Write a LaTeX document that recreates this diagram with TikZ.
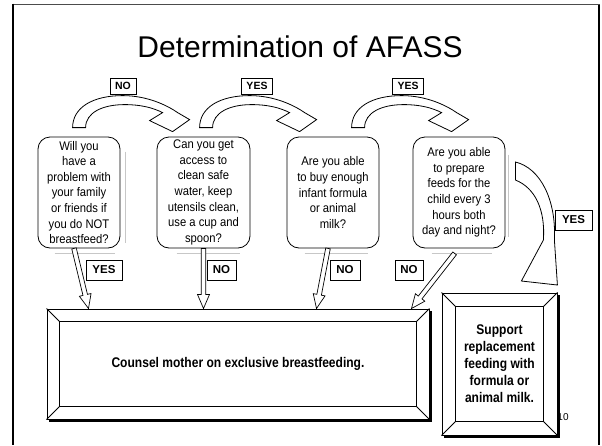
\documentclass[tikz,border=0pt]{standalone}
\usepackage{fontspec}
\setmainfont{Liberation Sans}
\newfontfamily\narrowfont[FakeStretch=0.9]{Liberation Sans}
\newfontfamily\narrowboldfont[FakeStretch=0.86]{Liberation Sans Bold}
\usetikzlibrary{calc}

\tikzset{
  qbox/.style={draw, rounded corners=12pt, line width=0.8pt, minimum height=111pt,
    align=center, inner sep=0pt, fill=white,
    font=\narrowfont\fontsize{12.5}{15.6}\selectfont},
  lbl/.style={draw, line width=0.8pt, inner sep=0pt, minimum height=16pt, fill=white,
    font=\bfseries\fontsize{10.5}{12}\selectfont},
  blbl/.style={lbl, minimum height=20pt, font=\bfseries\fontsize{11.5}{13}\selectfont},
  bevel/.style={draw, line width=1pt, fill=white, align=center, inner sep=0pt,
    font=\narrowboldfont\fontsize{14}{17}\selectfont},
  shadowbox/.style={fill=black, inner sep=0pt},
  bevelline/.style={line width=0.8pt},
  bendline/.style={draw, line width=0.8pt, fill=white},
  hollow/.style={draw, line width=0.7pt, fill=white},
  faint/.style={draw=black!22, line width=0.6pt},
  pics/bendarrow/.style={code={
    \draw[bendline] (0,0) .. controls (0,-20) and (20,-32) .. (50,-32)
      .. controls (75,-32) and (95,-22) .. (105,-15) -- (117,-8) -- (100,4)
      -- (77,-7) -- (90,-15) .. controls (80,-20) and (68,-23) .. (52,-23)
      .. controls (30,-23) and (13,-15) .. (13,0) -- cycle;
  }},
}

\newcommand\harrow[2]{%
  \coordinate (ha) at (#1);
  \coordinate (hb) at (#2);
  \coordinate (hh) at ($(hb)!14pt!(ha)$);
  \draw[hollow] ($(ha)!2.3pt!90:(hb)$) -- ($(hh)!2.3pt!-90:(ha)$)
    -- ($(hh)!6pt!-90:(ha)$) -- (hb) -- ($(hh)!6pt!90:(ha)$)
    -- ($(hh)!2.3pt!90:(ha)$) -- ($(ha)!2.3pt!-90:(hb)$) -- cycle;
}

\newcommand\bevelframe[2]{%
  \draw[bevelline] ($(#1.north west)+(#2,#2)$) rectangle ($(#1.south east)+(-#2,-#2)$);
  \draw[bevelline] (#1.north west) -- ++(#2,#2);
  \draw[bevelline] (#1.north east) -- ++(-#2,#2);
  \draw[bevelline] (#1.south west) -- ++(#2,-#2);
  \draw[bevelline] (#1.south east) -- ++(-#2,-#2);
}

\begin{document}
\begin{tikzpicture}[x=1pt,y=-1pt]
\useasboundingbox (0,0) rectangle (602,445);
\fill[white] (0,0) rectangle (602,445);

% slide frame
\draw[line width=1pt, black!70] (13,4.5) -- (599.5,4.5);
\draw[line width=1.2pt] (599,4.5) -- (599,445);
\draw[line width=2.6pt] (13,3.5) -- (13,445);

% title
\node[font=\fontsize{30}{36}\selectfont, anchor=base] (title) at (300,57) {Determination of AFASS};

% question boxes
\node[qbox, minimum width=82pt] (q1) at (79,192.5)
  {Will you\\have a\\problem with\\your family\\or friends if\\you do NOT\\breastfeed?};
\node[qbox, minimum width=93pt] (q2) at (203.5,192.5)
  {Can you get\\access to\\clean safe\\water, keep\\utensils clean,\\use a cup and\\spoon?};
\node[qbox, minimum width=92pt] (q3) at (333,192.5)
  {Are you able\\to buy enough\\infant formula\\or animal\\milk?};
\node[qbox, minimum width=92pt] (q4) at (459,192.5)
  {Are you able\\to prepare\\feeds for the\\child every 3\\hours both\\day and night?};

% faint shadows
\draw[faint] ($(q1.north east)+(5,15)$) -- ($(q1.south east)+(5,-5)$);
\draw[faint] ($(q4.north east)+(3,18)$) -- ($(q4.south east)+(3,-11)$);
\draw[faint] ($(q1.south west)+(17,5)$) -- ($(q1.south east)+(-5,5)$);
\draw[faint] ($(q2.south west)+(20,5)$) -- ($(q2.south east)+(-10,5)$);
\draw[faint] ($(q3.south west)+(18,5)$) -- ($(q3.south east)+(-11,5)$);
\draw[faint] ($(q4.south west)+(19,5)$) -- ($(q4.south east)+(-13,5)$);

% curved arrows between questions
\pic at ($(q1.north west)+(35,-9)$) {bendarrow};
\pic at ($(q2.north west)+(43,-9)$) {bendarrow};
\pic at ($(q3.north west)+(65,-9)$) {bendarrow};

% top labels
\node[lbl, minimum width=26pt] (l1) at (123,86) {NO};
\node[lbl, minimum width=31pt] (l2) at (257,86) {YES};
\node[lbl, minimum width=31pt] (l3) at (408,86) {YES};

% page number (partly hidden by the box)
\node[font=\fontsize{10}{12}\selectfont] (pg) at (563,417.5) {10};

% outcome boxes with drop shadows
\node[shadowbox, minimum width=383pt, minimum height=111pt] (cmsh) at (240,366) {};
\node[bevel, minimum width=382pt, minimum height=110pt] (cm) at (238,364)
  {Counsel mother on exclusive breastfeeding.};
\bevelframe{cm}{13}
\node[shadowbox, minimum width=116pt, minimum height=143pt] (rfsh) at (501.5,366) {};
\node[bevel, minimum width=115pt, minimum height=142pt] (rf) at (499.5,364)
  {Support\\replacement\\feeding with\\formula or\\animal milk.};
\bevelframe{rf}{14}

% straight hollow arrows to the counselling box
\harrow{$(q1.south)+(-5,0)$}{$(cm.north west)+(42,0)$}
\harrow{q2.south}{q2.south |- cm.north}
\harrow{$(q3.south)+(-5,0)$}{$(cm.north west)+(270,0)$}
\harrow{$(q4.south west)+(42,5)$}{$(cm.north east)+(-18,0)$}

% curved YES arrow to replacement feeding
\draw[bendline] ($(q4.east)+(10,-30.5)$) .. controls +(25,6) and +(2,-40) .. ($(q4.east)+(49,47.5)$)
  -- ($(q4.east)+(52,92.5)$) -- ($(q4.east)+(16,88.5)$) -- ($(q4.east)+(38,47.5)$)
  .. controls +(2,-30) and +(20,8) .. ($(q4.east)+(10,-12.5)$) -- cycle;

% bottom labels
\node[blbl, minimum width=36pt] (b1) at (104,270) {YES};
\node[blbl, minimum width=29pt] (b2) at (221.5,270) {NO};
\node[blbl, minimum width=30pt] (b3) at (345,270) {NO};
\node[blbl, minimum width=28pt] (b4) at (409,270) {NO};
\node[blbl, minimum width=37pt] (b5) at (573.5,220) {YES};
\end{tikzpicture}
\end{document}
